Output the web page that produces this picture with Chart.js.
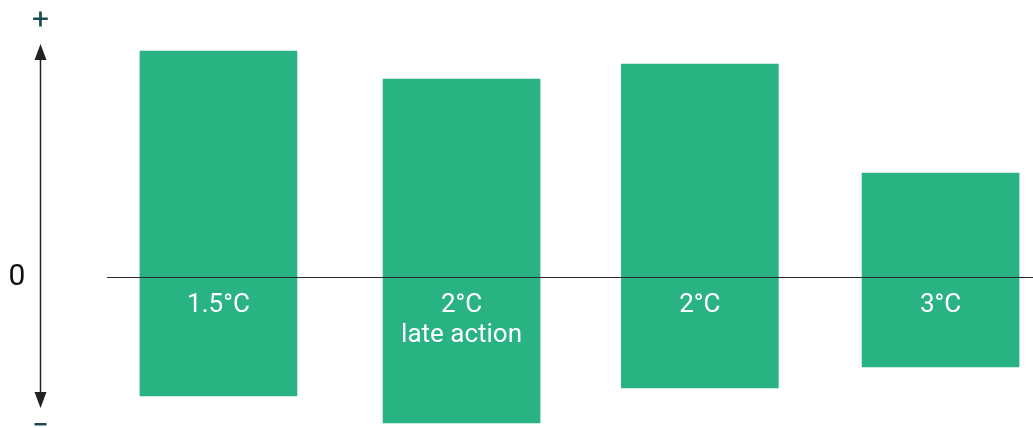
<!DOCTYPE html>
<html>
<head>
<meta charset="utf-8">
<script src="https://cdn.jsdelivr.net/npm/chart.js@4"></script>
<style>
  html, body { margin: 0; padding: 0; background: #fff; }
  #wrap { position: relative; width: 1033px; height: 428px; }
</style>
</head>
<body>
<div id="wrap"><canvas id="chart"></canvas></div>
<script>
// scenario labels (lines shown inside each bar)
var categories = [['1.5°C'], ['2°C', 'late action'], ['2°C'], ['3°C']];
// bar positions along x (one per scenario)
var positions = [0, 1.01, 2, 3];
// top and bottom of each floating bar (arbitrary units, 0 = baseline)
var upper = [22.6, 19.8, 21.3, 10.4];
var lower = [-11.9, -14.6, -11.1, -9.0];

var barColor = '#29b383';

var points = [];
for (var i = 0; i < positions.length; i++) {
	points.push({ x: positions[i], y: [lower[i], upper[i]] });
}

// zero line, bar labels and the +/- arrow on the left
var decor = {
	id: 'decor',
	afterDatasetsDraw: function(chart) {
		var ctx = chart.ctx;
		var y0 = chart.scales.y.getPixelForValue(0);
		var area = chart.chartArea;

		ctx.save();
		// baseline
		ctx.strokeStyle = '#2b2b2b';
		ctx.lineWidth = 1;
		ctx.beginPath();
		ctx.moveTo(area.left, Math.round(y0) + 0.5);
		ctx.lineTo(area.right, Math.round(y0) + 0.5);
		ctx.stroke();

		// labels inside bars
		ctx.fillStyle = '#ffffff';
		ctx.font = '26px Roboto';
		ctx.textAlign = 'center';
		ctx.textBaseline = 'middle';
		var bars = chart.getDatasetMeta(0).data;
		bars.forEach(function(bar, i) {
			categories[i].forEach(function(line, j) {
				ctx.fillText(line, bar.x, y0 + 28 + j * 30);
			});
		});

		// arrow
		var ax = 40.5;
		ctx.strokeStyle = '#222';
		ctx.fillStyle = '#222';
		ctx.lineWidth = 1.5;
		ctx.beginPath();
		ctx.moveTo(ax, 58);
		ctx.lineTo(ax, 394);
		ctx.stroke();
		ctx.beginPath();
		ctx.moveTo(ax, 44);
		ctx.lineTo(ax - 6, 60);
		ctx.lineTo(ax + 6, 60);
		ctx.closePath();
		ctx.fill();
		ctx.beginPath();
		ctx.moveTo(ax, 408);
		ctx.lineTo(ax - 6, 392);
		ctx.lineTo(ax + 6, 392);
		ctx.closePath();
		ctx.fill();

		// + / 0 / -
		ctx.fillStyle = '#1d4a4f';
		ctx.font = '30px Roboto';
		ctx.fillText('+', ax, 21);
		ctx.fillRect(ax - 6, 423, 12, 2.5);
		ctx.fillStyle = '#111';
		ctx.font = '30px Roboto';
		ctx.fillText('0', 17, y0);
		ctx.restore();
	}
};

var ctx = document.getElementById('chart');

var chart = new Chart(ctx, {
	type: 'bar',
	data: {
		datasets: [{
			data: points,
			backgroundColor: barColor,
			borderWidth: 0,
			barThickness: 157
		}]
	},
	options: {
		responsive: true,
		maintainAspectRatio: false,
		animation: false,
		layout: { padding: { left: 107, right: 0, top: 0, bottom: 0 } },
		plugins: {
			legend: { display: false },
			tooltip: { enabled: false }
		},
		scales: {
			x: { type: 'linear', min: -0.463, max: 3.384, offset: false, display: false },
			y: { min: -15.1, max: 27.7, display: false }
		}
	},
	plugins: [decor]
});
</script>
</body>
</html>
